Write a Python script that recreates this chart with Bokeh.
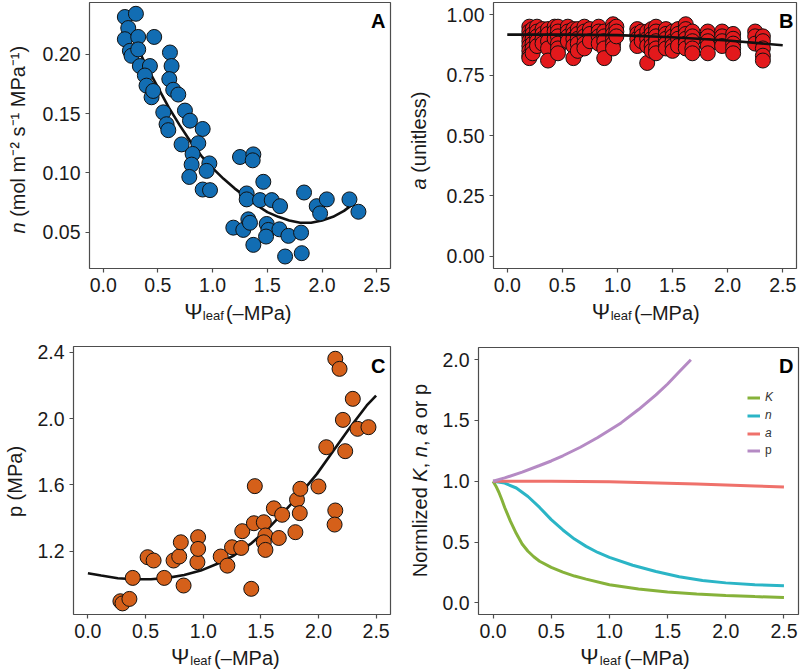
import math
from bokeh.plotting import figure
from bokeh.layouts import column, row
from bokeh.models import Range1d, FixedTicker, PrintfTickFormatter, Label, Legend, LegendItem
from bokeh.embed import file_html
from bokeh.resources import INLINE

FONT = "Liberation Sans"
TXT = "#1a1a1a"
GRAY = "#4d4d4d"

# ---------------- data ----------------
x_ticks = [0.0, 0.5, 1.0, 1.5, 2.0, 2.5]

# Panel A: n vs psi_leaf
a_psi = [0.198, 0.299, 0.229, 0.198, 0.320, 0.244, 0.259, 0.320, 0.335, 0.427,
         0.381, 0.396, 0.442, 0.457, 0.466, 0.610, 0.625, 0.604, 0.640, 0.686,
         0.549, 0.579, 0.595, 0.747, 0.793, 0.909, 0.716, 0.869, 0.817, 0.808,
         0.970, 0.945, 0.787, 0.909, 0.976, 1.250, 1.372, 1.366, 1.463, 1.311,
         1.311, 1.433, 1.540, 1.616, 1.189, 1.280, 1.326, 1.341, 1.372, 1.494,
         1.509, 1.488, 1.610, 1.692, 1.662, 1.808, 1.814, 1.835, 1.951, 1.982,
         2.043, 2.250, 2.332]
a_n = [0.2313, 0.2340, 0.2220, 0.2126, 0.2145, 0.2028, 0.1986, 0.2040, 0.1900, 0.1900,
       0.1820, 0.1735, 0.1637, 0.1690, 0.2145, 0.2014, 0.1900, 0.1790, 0.1700, 0.1660,
       0.1510, 0.1410, 0.1360, 0.1525, 0.1440, 0.1370, 0.1240, 0.1250, 0.1160, 0.1070,
       0.1080, 0.1017, 0.0966, 0.0860, 0.0855, 0.1134, 0.1156, 0.1106, 0.0925, 0.0827,
       0.0777, 0.0771, 0.0771, 0.0720, 0.0539, 0.0520, 0.0609, 0.0580, 0.0394, 0.0570,
       0.0520, 0.0464, 0.0525, 0.0470, 0.0296, 0.0497, 0.0324, 0.0835, 0.0720, 0.0659,
       0.0777, 0.0777, 0.0673]
a_fit_psi = [0.22, 0.3, 0.4, 0.5, 0.6, 0.7, 0.8, 0.9, 1.0, 1.1, 1.2, 1.3, 1.4, 1.5,
             1.6, 1.7, 1.8, 1.9, 2.0, 2.1, 2.2, 2.3]
a_fit_n = [0.224, 0.208, 0.189, 0.172, 0.155, 0.140, 0.126, 0.114, 0.104, 0.095,
           0.087, 0.080, 0.073, 0.067, 0.063, 0.060, 0.058, 0.058, 0.060, 0.063,
           0.068, 0.075]

# Panel B: a vs psi_leaf (clusters of values per leaf)
b_psi = [0.20, 0.23, 0.27, 0.32, 0.37, 0.43, 0.46, 0.55, 0.60, 0.64, 0.70, 0.75,
         0.83, 0.88, 0.96, 0.99, 1.18, 1.22, 1.27, 1.31, 1.35, 1.44, 1.50, 1.55,
         1.62, 1.68, 1.82, 1.95, 2.05, 2.25, 2.32]
b_a = [[0.95, 0.93, 0.91, 0.89, 0.87, 0.85, 0.83, 0.82],
       [0.94, 0.92, 0.90, 0.88, 0.86, 0.84],
       [0.95, 0.93, 0.91, 0.89, 0.87],
       [0.94, 0.92, 0.90, 0.88],
       [0.94, 0.92, 0.89, 0.86, 0.81],
       [0.95, 0.93, 0.90],
       [0.95, 0.93, 0.91, 0.88, 0.86, 0.84],
       [0.95, 0.93, 0.91, 0.89],
       [0.94, 0.92, 0.90, 0.87, 0.82],
       [0.94, 0.92, 0.90, 0.88, 0.85],
       [0.95, 0.93, 0.91, 0.88, 0.86],
       [0.94, 0.92, 0.89],
       [0.95, 0.93, 0.91, 0.88],
       [0.93, 0.91, 0.89, 0.86, 0.82],
       [0.96, 0.94, 0.92, 0.90, 0.88, 0.86],
       [0.95, 0.93, 0.91],
       [0.94, 0.92, 0.90, 0.87],
       [0.93, 0.91, 0.89],
       [0.93, 0.90, 0.87, 0.80],
       [0.94, 0.92, 0.90, 0.87, 0.85],
       [0.95, 0.93, 0.91, 0.89, 0.86, 0.84],
       [0.94, 0.92, 0.90, 0.88, 0.86],
       [0.93, 0.91, 0.89, 0.87, 0.85],
       [0.94, 0.92, 0.90, 0.87],
       [0.96, 0.94, 0.92, 0.90, 0.88, 0.86],
       [0.93, 0.91, 0.89, 0.86, 0.84],
       [0.93, 0.91, 0.89, 0.87, 0.84],
       [0.93, 0.91, 0.89, 0.87],
       [0.92, 0.90, 0.88, 0.86, 0.84],
       [0.93, 0.91, 0.88],
       [0.91, 0.89, 0.86, 0.83, 0.81]]
b_fit_psi = [0.0, 0.5, 1.0, 1.5, 2.0, 2.5]
b_fit_a = [0.917, 0.917, 0.915, 0.906, 0.893, 0.873]

# Panel C: p vs psi_leaf
c_psi = [0.282, 0.300, 0.360, 0.389, 0.518, 0.570, 0.662, 0.743, 0.792, 0.806,
         0.830, 0.950, 0.956, 0.956, 1.152, 1.210, 1.250, 1.330, 1.339, 1.417,
         1.440, 1.448, 1.526, 1.540, 1.526, 1.540, 1.613, 1.685, 1.656, 1.800,
         1.814, 1.838, 1.843, 2.000, 2.068, 2.146, 2.140, 2.146, 2.183, 2.212,
         2.232, 2.298, 2.339, 2.434]
c_p = [0.898, 0.885, 0.912, 1.039, 1.164, 1.144, 1.039, 1.144, 1.168, 1.254,
       0.993, 1.134, 1.285, 1.214, 1.168, 1.113, 1.224, 1.220, 1.321, 0.973,
       1.369, 1.593, 1.375, 1.295, 1.254, 1.208, 1.459, 1.420, 1.280, 1.315,
       1.511, 1.430, 1.577, 1.591, 1.828, 1.446, 1.361, 2.362, 2.301, 1.993,
       1.804, 2.120, 1.939, 1.949]
c_fit_psi = [0.0, 0.115, 0.259, 0.403, 0.547, 0.691, 0.835, 0.979, 1.123, 1.267,
             1.411, 1.555, 1.699, 1.843, 1.987, 2.131, 2.275, 2.419, 2.5]
c_fit_p = [1.067, 1.053, 1.037, 1.031, 1.031, 1.039, 1.057, 1.083, 1.124, 1.174,
           1.244, 1.331, 1.436, 1.546, 1.667, 1.808, 1.949, 2.080, 2.140]

# Panel D: normalized curves
d_K_psi = [0.0, 0.025, 0.05, 0.075, 0.1, 0.15, 0.2, 0.25, 0.3, 0.35, 0.4, 0.5, 0.6,
           0.7, 0.8, 1.0, 1.25, 1.5, 1.75, 2.0, 2.25, 2.5]
d_K = [1.0, 0.96, 0.91, 0.85, 0.785, 0.67, 0.57, 0.485, 0.425, 0.38, 0.343, 0.292,
       0.253, 0.221, 0.196, 0.150, 0.115, 0.090, 0.074, 0.062, 0.052, 0.044]
d_n_psi = [0.0, 0.1, 0.2, 0.3, 0.4, 0.5, 0.6, 0.7, 0.8, 0.9, 1.0, 1.2, 1.4, 1.6,
           1.8, 2.0, 2.25, 2.5]
d_n = [1.0, 0.985, 0.945, 0.875, 0.785, 0.685, 0.600, 0.525, 0.465, 0.415, 0.375,
       0.31, 0.258, 0.215, 0.185, 0.165, 0.150, 0.142]
d_a_psi = [0.0, 0.5, 0.75, 1.0, 1.25, 1.5, 1.75, 2.0, 2.25, 2.5]
d_a = [1.0, 1.0, 0.999, 0.996, 0.991, 0.985, 0.978, 0.970, 0.962, 0.953]
d_p_psi = [0.0, 0.1, 0.25, 0.4, 0.5, 0.6, 0.75, 0.9, 1.0, 1.1, 1.25, 1.4, 1.5,
           1.6, 1.7]
d_p = [1.0, 1.028, 1.075, 1.13, 1.167, 1.21, 1.28, 1.36, 1.42, 1.48, 1.59, 1.71,
       1.80, 1.90, 2.0]
d_labels = ["K", "n", "a", "p"]

# ---------------- helpers ----------------
AW = {' ': 278, '(': 333, ')': 333, 'm': 833, 'o': 556, 'l': 222, 'n': 556, 's': 500,
      'M': 833, 'P': 667, 'a': 556, 'u': 556, 'i': 222, 't': 278, 'e': 556, 'N': 722,
      'r': 333, 'z': 500, 'd': 556, 'K': 667, ',': 278, 'p': 556}


def tw(s, size):
    return sum(AW.get(ch, 556) for ch in s) * size / 1000.0


XR = (-0.125, 2.625)
TICK_SIZE = "19.5px"
TITLE = 20
BSHIFT = 0.32   # empirical correction of the rendered alphabetic baseline (em)
XSHIFT = -29    # empirical horizontal correction inside the x-title strips


def base_fig(w, h, yr, yticks, yfmt, bl, br, bt, bb):
    p = figure(width=w, height=h, x_range=Range1d(*XR), y_range=Range1d(*yr),
               output_backend="svg", toolbar_location=None,
               min_border_left=bl, min_border_right=br, min_border_top=bt,
               min_border_bottom=bb)
    p.grid.visible = False
    p.background_fill_color = "white"
    p.border_fill_color = "white"
    p.outline_line_color = GRAY
    p.outline_line_width = 1.2
    p.xaxis.ticker = FixedTicker(ticks=x_ticks)
    p.xaxis.formatter = PrintfTickFormatter(format="%.1f")
    p.yaxis.ticker = FixedTicker(ticks=yticks)
    p.yaxis.formatter = PrintfTickFormatter(format=yfmt)
    for ax in (p.xaxis[0], p.yaxis[0]):
        ax.axis_line_color = None
        ax.major_tick_line_color = GRAY
        ax.major_tick_line_width = 1.2
        ax.major_tick_out = 4
        ax.major_tick_in = 0
        ax.minor_tick_line_color = None
        ax.major_label_text_font = FONT
        ax.major_label_text_font_size = TICK_SIZE
        ax.major_label_text_color = TXT
        ax.major_label_standoff = 5
    return p


def strip(w, h):
    s = figure(width=w, height=h, x_range=Range1d(0, w), y_range=Range1d(0, h),
               output_backend="svg", toolbar_location=None,
               x_axis_location=None, y_axis_location=None,
               min_border_left=0, min_border_right=0, min_border_top=0,
               min_border_bottom=0)
    s.grid.visible = False
    s.outline_line_color = None
    s.background_fill_color = "white"
    s.border_fill_color = "white"
    return s


def lab(p, text, x, y, xo, yo, size, style="normal", align="left",
        baseline="alphabetic", angle=0.0, color=TXT):
    p.add_layout(Label(x=x, y=y, x_offset=xo, y_offset=yo, text=text,
                       text_font=FONT, text_font_size=f"{size}px",
                       text_font_style=style, text_align=align,
                       text_baseline=baseline, angle=angle, text_color=color))


def hlab(p, text, x, y, size, **kw):
    # horizontal text whose alphabetic baseline sits at y
    lab(p, text, x, y, 0, BSHIFT * size, size, **kw)


def vlab(p, text, x, y, size, **kw):
    # text rotated 90 deg whose baseline sits at x
    lab(p, text, x, y, -BSHIFT * size, 0, size, angle=math.pi / 2, **kw)


def x_title(s, cx, base):
    cx = cx + XSHIFT
    hlab(s, "Ψ", cx - 60.0, base, 22)
    hlab(s, "leaf", cx - 37.5, base - 1, 13)
    hlab(s, "(–MPa)", cx - 9.5, base, TITLE)


def y_title(s, pieces, bx, start, size=TITLE):
    pos = 0.0
    for text, style in pieces:
        lead = len(text) - len(text.lstrip(" "))
        vlab(s, text.strip(" "), bx, start + pos + tw(" " * lead, size), size, style=style)
        pos += tw(text, size)


def letter(p, text, xo, yo):
    lab(p, text, p.x_range.end, p.y_range.end, xo, yo + BSHIFT * 20, 20,
        style="bold", align="right", color="black")


# ---------------- Panel A ----------------
pA = base_fig(364, 300, (0.0195, 0.2435), [0.05, 0.10, 0.15, 0.20], "%.2f", 53, 10, 2, 32)
pA.line(a_fit_psi, a_fit_n, line_color="#111111", line_width=2.6)
pA.scatter(a_psi, a_n, size=15, fill_color="#126DB3", line_color="#111111", line_width=1)
letter(pA, "A", -5, -24.7)
sxA = strip(364, 30)
x_title(sxA, 239.5 - 36, 11.5)
syA = strip(36, 330)
y_title(syA, [("n", "italic"), (" (mol m⁻² s⁻¹ MPa⁻¹)", "normal")], 24, 97)
blockA = row(syA, column(pA, sxA))

# ---------------- Panel B ----------------
b_x = [x for x, vals in zip(b_psi, b_a) for _ in vals]
b_y = [v for vals in b_a for v in vals]
pB = base_fig(362, 300, (-0.05, 1.05), [0.0, 0.25, 0.5, 0.75, 1.0], "%.2f", 55, 4, 2, 32)
pB.scatter(b_x, b_y, size=15, fill_color="#E3191C", line_color="#111111", line_width=1)
pB.line(b_fit_psi, b_fit_a, line_color="#111111", line_width=2.6)
letter(pB, "B", -3, -24.7)
sxB = strip(362, 30)
x_title(sxB, 244.5 - 38, 11.5)
syB = strip(38, 330)
y_title(syB, [("a", "italic"), (" (unitless)", "normal")], 25, 141)
blockB = row(syB, column(pB, sxB))

# ---------------- Panel C ----------------
pC = base_fig(372, 315, (0.818, 2.436), [1.2, 1.6, 2.0, 2.4], "%.1f", 45, 10, 16, 31)
pC.line(c_fit_psi, c_fit_p, line_color="#111111", line_width=2.6)
pC.scatter(c_psi, c_p, size=15, fill_color="#D5601A", line_color="#111111", line_width=1)
letter(pC, "C", -5, -25.7)
sxC = strip(372, 24)
x_title(sxC, 231.5 - 28, 5.5)
syC = strip(28, 339)
vlab(syC, "p (MPa)", 21, 188, TITLE, align="center")
blockC = row(syC, column(pC, sxC))

# ---------------- Panel D ----------------
pD = base_fig(368, 315, (-0.095, 2.1), [0.0, 0.5, 1.0, 1.5, 2.0], "%.1f", 46, 2, 17, 31)
rK = pD.line(d_K_psi, d_K, line_color="#86B23A", line_width=3)
rN = pD.line(d_n_psi, d_n, line_color="#2BB5C6", line_width=3)
rA = pD.line(d_a_psi, d_a, line_color="#EF716B", line_width=3)
rP = pD.line(d_p_psi, d_p, line_color="#B58AC4", line_width=3)
letter(pD, "D", -5, -24.7)


def mk_legend(items, loc, style):
    lg = Legend(items=items, location=loc, border_line_color=None,
                background_fill_alpha=0, padding=0, margin=0, spacing=4,
                glyph_height=13, glyph_width=13, label_height=13,
                label_standoff=5, label_text_font=FONT,
                label_text_font_size="12px", label_text_color="#333333",
                label_text_font_style=style)
    pD.add_layout(lg)


mk_legend([LegendItem(label=d_labels[0], renderers=[rK]),
           LegendItem(label=d_labels[1], renderers=[rN]),
           LegendItem(label=d_labels[2], renderers=[rA])], (269, 174), "italic")
mk_legend([LegendItem(label=d_labels[3], renderers=[rP])], (269, 157), "normal")
sxD = strip(368, 24)
x_title(sxD, 238 - 32, 5.5)
syD = strip(32, 339)
d_pieces = [("Normlized ", "normal"), ("K", "italic"), (", ", "normal"),
            ("n", "italic"), (", ", "normal"), ("a", "italic"), (" or p", "normal")]
d_len = sum(tw(t, TITLE) for t, _ in d_pieces)
y_title(syD, d_pieces, 26, 189 - d_len / 2)
blockD = row(syD, column(pD, sxD))

layout = column(row(blockA, blockB), row(blockC, blockD))
open("out.html", "w").write(file_html(layout, INLINE))
